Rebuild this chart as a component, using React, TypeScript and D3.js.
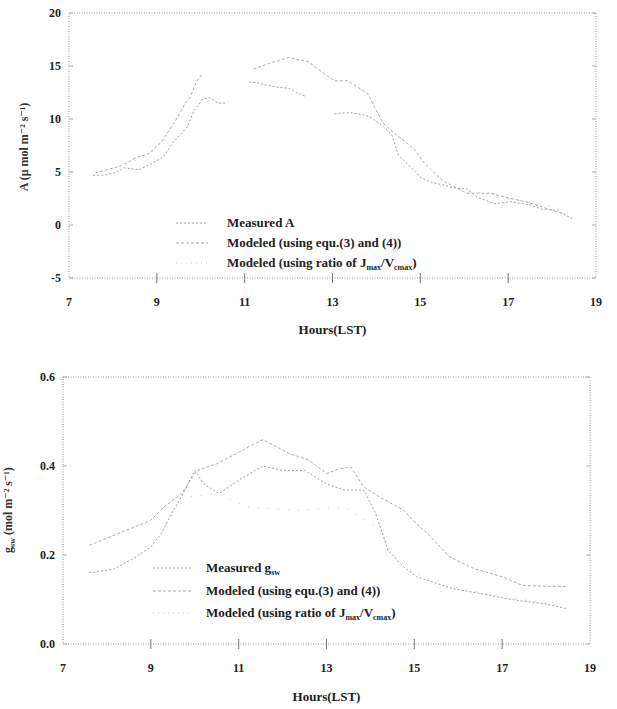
import React, { useEffect, useRef } from 'react'
import * as d3 from 'd3'

type Pt = [number, number | null]

const xTicks = [7, 9, 11, 13, 15, 17, 19]
const topYTicks = [-5, 0, 5, 10, 15, 20]
const bottomYTicks = [0, 0.2, 0.4, 0.6]
const bottomYLabels = ['0.0', '0.2', '0.4', '0.6']

// upper panel: net assimilation
const topMeasured: Pt[] = [
  [7.55, 4.7], [7.8, 4.7], [8.1, 5.0], [8.25, 5.4], [8.6, 5.2], [9.15, 6.4], [9.35, 7.7],
  [9.55, 8.6], [9.7, 9.3], [9.85, 10.8], [10.05, 11.9], [10.2, 12.0], [10.4, 11.5], [10.55, 11.5],
  [10.8, null],
  [11.1, 13.5], [11.3, 13.4], [11.5, 13.2], [11.75, 13.0], [12.0, 12.9], [12.2, 12.5], [12.4, 12.1],
  [12.7, null],
  [13.05, 10.5], [13.4, 10.6], [13.7, 10.4], [13.85, 10.2], [14.1, 9.5], [14.35, 8.5], [14.5, 6.6],
  [14.7, 5.8], [15.0, 4.5], [15.2, 4.1], [15.5, 3.8], [15.75, 3.5], [16.05, 3.4], [16.3, 2.6],
  [16.7, 2.0], [17.05, 2.2], [17.5, 1.9], [17.75, 1.5], [18.1, 1.4], [18.5, 0.5],
]
const topModeledEq: Pt[] = [
  [7.6, 4.9], [8.2, 5.6], [8.55, 6.4], [8.8, 6.7], [9.1, 7.8], [9.45, 10.0], [9.65, 11.5],
  [9.75, 12.0], [9.9, 13.5], [10.05, 14.3],
  [10.6, null],
  [11.2, 14.7], [11.6, 15.3], [12.0, 15.8], [12.45, 15.4], [12.9, 14.0], [13.05, 13.6],
  [13.35, 13.6], [13.8, 12.4], [14.15, 9.6], [14.4, 8.7], [14.85, 7.2], [15.1, 5.8], [15.25, 5.2],
  [15.5, 4.2], [16.05, 3.0], [16.6, 3.0], [17.05, 2.5], [17.4, 2.2], [18.0, 1.4], [18.3, 1.0],
]
const topModeledRatio: Pt[] = [
  [8.3, 5.6], [8.9, 6.9], [9.2, 8.5], [9.5, 10.4], [9.8, 10.6], [9.95, 11.3], [10.1, 11.8], [10.3, 11.7],
  [12.0, null],
  [15.9, 3.4], [16.3, 3.1], [16.55, 2.8], [16.7, 2.6], [16.95, 2.5], [17.3, 2.3], [17.7, 2.0],
  [18.1, 1.6], [18.5, 0.9],
]

// lower panel: stomatal conductance
const bottomMeasured: Pt[] = [
  [7.6, 0.16], [8.15, 0.168], [8.6, 0.192], [9.0, 0.218], [9.25, 0.25], [9.45, 0.29], [9.7, 0.331],
  [10.0, 0.39], [10.2, 0.36], [10.55, 0.338], [11.0, 0.368], [11.55, 0.4], [12.0, 0.39], [12.5, 0.39],
  [13.0, 0.36], [13.4, 0.346], [13.85, 0.346], [14.1, 0.297], [14.25, 0.256], [14.4, 0.211],
  [14.75, 0.174], [15.05, 0.151], [15.4, 0.14], [15.85, 0.125], [16.3, 0.117], [16.7, 0.11],
  [17.2, 0.1], [17.6, 0.095], [18.0, 0.09], [18.45, 0.08],
]
const bottomModeledEq: Pt[] = [
  [7.6, 0.222], [8.25, 0.248], [8.6, 0.262], [9.0, 0.278], [9.3, 0.308], [9.7, 0.338], [10.05, 0.39],
  [10.5, 0.405], [10.95, 0.428], [11.3, 0.447], [11.55, 0.459], [11.85, 0.444], [12.15, 0.428],
  [12.6, 0.413], [13.0, 0.383], [13.3, 0.394], [13.55, 0.398], [13.85, 0.353], [14.2, 0.331],
  [14.75, 0.301], [15.05, 0.27], [15.3, 0.248], [15.8, 0.196], [16.35, 0.17], [17.0, 0.151],
  [17.45, 0.132], [17.9, 0.13], [18.45, 0.129],
]
const bottomModeledRatio: Pt[] = [
  [8.15, 0.168], [8.64, 0.195], [9.25, 0.25], [9.6, 0.31], [9.75, 0.33], [10.5, 0.338], [11.2, 0.308],
  [12.3, 0.3], [13.4, 0.308], [14.2, 0.26], [14.5, 0.2], [15.0, 0.16], [15.8, 0.13], [16.7, 0.112],
  [17.6, 0.098], [18.4, 0.085],
]

const styles = [
  { stroke: '#a0a0a0', dash: '2,2' },
  { stroke: '#ababab', dash: '3,2' },
  { stroke: '#c8c8c8', dash: '1,9' },
]

type Part = { t: string; sub?: boolean }

const topLegend: Part[][] = [
  [{ t: 'Measured A' }],
  [{ t: 'Modeled (using equ.(3) and (4))' }],
  [{ t: 'Modeled (using ratio of J' }, { t: 'max', sub: true }, { t: '/V' }, { t: 'cmax', sub: true }, { t: ')' }],
]
const bottomLegend: Part[][] = [
  [{ t: 'Measured g' }, { t: 'sw', sub: true }],
  [{ t: 'Modeled (using equ.(3) and (4))' }],
  [{ t: 'Modeled (using ratio of J' }, { t: 'max', sub: true }, { t: '/V' }, { t: 'cmax', sub: true }, { t: ')' }],
]

const font = '"Liberation Serif", "DejaVu Serif", serif'

function addParts(text: any, parts: Part[]) {
  let shifted = false
  parts.forEach((p) => {
    const ts = text.append('tspan').text(p.t)
    if (p.sub) {
      ts.attr('font-size', 8).attr('dy', shifted ? 0 : 3)
      shifted = true
    } else {
      ts.attr('dy', shifted ? -3 : 0)
      shifted = false
    }
  })
}

function drawPanel(root: any, cfg: any) {
  const x = d3.scaleLinear().domain([7, 19]).range([cfg.left, cfg.right])
  const y = d3.scaleLinear().domain(cfg.yDomain).range([cfg.bottom, cfg.top])
  const g = root.append('g')

  g.append('rect')
    .attr('x', cfg.left)
    .attr('y', cfg.top)
    .attr('width', cfg.right - cfg.left)
    .attr('height', cfg.bottom - cfg.top)
    .attr('fill', 'none')
    .attr('stroke', '#9a9a9a')
    .attr('stroke-dasharray', '1,1.5')

  // x ticks (crossing the axis)
  g.selectAll('.xt')
    .data(xTicks.slice(1, -1))
    .join('line')
    .attr('x1', (d: number) => x(d))
    .attr('x2', (d: number) => x(d))
    .attr('y1', cfg.bottom - 5)
    .attr('y2', cfg.bottom + 5)
    .attr('stroke', '#777')

  g.selectAll('.xl')
    .data(xTicks)
    .join('text')
    .attr('x', (d: number) => x(d))
    .attr('y', cfg.tickY + 4)
    .attr('text-anchor', 'middle')
    .attr('font-family', font)
    .attr('font-weight', 'bold')
    .attr('font-size', 12)
    .attr('fill', '#222')
    .text((d: number) => d)

  // y ticks, left and right, inward
  g.selectAll('.yt')
    .data(cfg.yTicks)
    .join('line')
    .attr('x1', cfg.left)
    .attr('x2', cfg.left + 4)
    .attr('y1', (d: number) => y(d))
    .attr('y2', (d: number) => y(d))
    .attr('stroke', '#aaa')
  g.selectAll('.ytr')
    .data(cfg.yTicks)
    .join('line')
    .attr('x1', cfg.right)
    .attr('x2', cfg.right - 4)
    .attr('y1', (d: number) => y(d))
    .attr('y2', (d: number) => y(d))
    .attr('stroke', '#aaa')

  g.selectAll('.yl')
    .data(cfg.yTicks)
    .join('text')
    .attr('x', cfg.left - 8)
    .attr('y', (d: number) => y(d) + 4)
    .attr('text-anchor', 'end')
    .attr('font-family', font)
    .attr('font-weight', 'bold')
    .attr('font-size', 12)
    .attr('fill', '#222')
    .text((d: number, i: number) => cfg.yLabels[i])

  const line = d3
    .line<Pt>()
    .defined((d) => d[1] !== null)
    .x((d) => x(d[0]))
    .y((d) => y(d[1] as number))

  cfg.series.forEach((s: Pt[], i: number) => {
    g.append('path')
      .datum(s)
      .attr('d', line)
      .attr('fill', 'none')
      .attr('stroke', styles[i].stroke)
      .attr('stroke-width', 1)
      .attr('stroke-dasharray', styles[i].dash)
  })

  // legend
  cfg.legend.forEach((parts: Part[], i: number) => {
    const ly = cfg.legendY[i]
    g.append('line')
      .attr('x1', cfg.legendX[0])
      .attr('x2', cfg.legendX[1])
      .attr('y1', ly)
      .attr('y2', ly)
      .attr('stroke', styles[i].stroke)
      .attr('stroke-dasharray', i === 2 ? '1,4' : styles[i].dash)
    const t = g
      .append('text')
      .attr('x', cfg.legendX[2])
      .attr('y', ly + 4)
      .attr('font-family', font)
      .attr('font-weight', 'bold')
      .attr('font-size', 13)
      .attr('fill', '#222')
    addParts(t, parts)
  })

  g.append('text')
    .attr('x', (cfg.left + cfg.right) / 2)
    .attr('y', cfg.titleY + 4)
    .attr('text-anchor', 'middle')
    .attr('font-family', font)
    .attr('font-weight', 'bold')
    .attr('font-size', 13)
    .attr('fill', '#222')
    .text('Hours(LST)')

  const yt = g
    .append('text')
    .attr('transform', `translate(${cfg.yTitleX},${cfg.yTitleY}) rotate(-90)`)
    .attr('text-anchor', 'middle')
    .attr('font-family', font)
    .attr('font-weight', 'bold')
    .attr('font-size', 12)
    .attr('fill', '#333')
  addParts(yt, cfg.yTitle)
}

const App = () => {
  const ref = useRef<SVGSVGElement>(null)

  useEffect(() => {
    const svg = d3.select(ref.current)
    svg.selectAll('*').remove()
    svg.append('rect').attr('width', 617).attr('height', 709).attr('fill', '#fff')

    drawPanel(svg, {
      left: 69, right: 596, top: 13, bottom: 278,
      yDomain: [-5, 20], yTicks: topYTicks, yLabels: topYTicks.map(String),
      series: [topMeasured, topModeledEq, topModeledRatio],
      legend: topLegend, legendY: [223, 243, 263], legendX: [176, 208, 227],
      tickY: 302, titleY: 330,
      yTitle: [{ t: 'A (μ mol m⁻² s⁻¹)' }], yTitleX: 28, yTitleY: 147,
    })

    drawPanel(svg, {
      left: 63, right: 590, top: 377, bottom: 644,
      yDomain: [0, 0.6], yTicks: bottomYTicks, yLabels: bottomYLabels,
      series: [bottomMeasured, bottomModeledEq, bottomModeledRatio],
      legend: bottomLegend, legendY: [568, 591, 613], legendX: [153, 192, 206],
      tickY: 668, titleY: 697,
      yTitle: [{ t: 'g' }, { t: 'sw', sub: true }, { t: ' (mol m⁻² s⁻¹)' }], yTitleX: 12, yTitleY: 510,
    })
  }, [])

  return (
    <svg
      ref={ref}
      width={617}
      height={709}
      style={{ position: 'absolute', left: 0, top: 0 }}
    ></svg>
  )
}

export default App
